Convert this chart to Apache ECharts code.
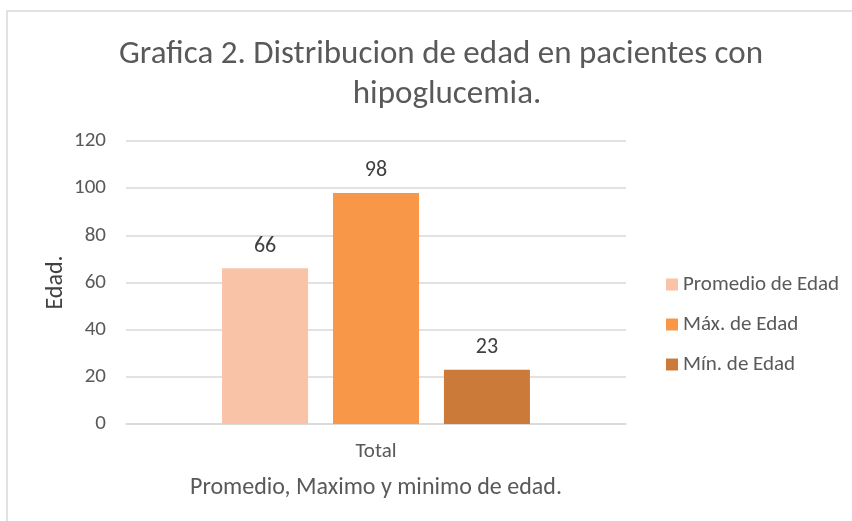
<!DOCTYPE html>
<html>
<head>
<meta charset="utf-8">
<script src="https://cdn.jsdelivr.net/npm/echarts@6/dist/echarts.min.js"></script>
<style>
  html, body { margin: 0; padding: 0; background: #fff; }
  #chart { width: 852px; height: 521px; }
</style>
</head>
<body>
<div id="chart"></div>
<script>
// datos de la grafica
const categories = ['Total'];
const seriesNames = ['Promedio de Edad', 'Máx. de Edad', 'Mín. de Edad'];
const promedio = [66];
const maximo = [98];
const minimo = [23];
const yTicks = [0, 20, 40, 60, 80, 100, 120];
const titleLines = ['Grafica 2. Distribucion de edad en pacientes con', 'hipoglucemia.'];

const colors = ['#F9C3A7', '#F79747', '#CC7A3A'];
const font = 'Calibri, Carlito, Lato, sans-serif';

const chart = echarts.init(document.getElementById('chart'));

const mkSeries = (name, data, i) => ({
  name: name,
  type: 'bar',
  data: data,
  barWidth: 86,
  barGap: '29%',
  itemStyle: { color: colors[i] },
  label: {
    show: true,
    position: 'top',
    distance: 11,
    color: '#404040',
    fontSize: 22,
    fontFamily: font
  }
});

const titleStyle = {
  color: '#595959',
  fontSize: 33,
  fontWeight: 'normal',
  fontFamily: font
};

chart.setOption({
  animation: false,
  textStyle: { fontFamily: font },
  graphic: [{
    type: 'rect',
    shape: { x: 7, y: 11, width: 900, height: 600 },
    style: { fill: 'none', stroke: '#d9d9d9', lineWidth: 1.5 },
    z: -1
  }],
  title: [
    { text: titleLines[0], left: 436, textAlign: 'center', top: 33, textStyle: titleStyle },
    { text: titleLines[1], left: 442, textAlign: 'center', top: 73, textStyle: titleStyle }
  ],
  legend: {
    orient: 'vertical',
    left: 661,
    top: 269,
    itemWidth: 12,
    itemHeight: 12,
    itemGap: 19,
    icon: 'rect',
    textStyle: { color: '#595959', fontSize: 21, fontFamily: font },
    data: seriesNames
  },
  grid: { left: 126, right: 226, top: 141, bottom: 97 },
  xAxis: {
    type: 'category',
    data: categories,
    axisLine: { lineStyle: { color: '#d9d9d9', width: 1.5 } },
    axisTick: { show: false },
    axisLabel: { color: '#595959', fontSize: 21, margin: 17 },
    name: 'Promedio, Maximo y minimo de edad.',
    nameLocation: 'middle',
    nameGap: 52,
    nameTextStyle: { color: '#595959', fontSize: 24 }
  },
  yAxis: {
    type: 'value',
    min: yTicks[0],
    max: yTicks[yTicks.length - 1],
    interval: 20,
    axisLine: { show: false },
    axisTick: { show: false },
    splitLine: { lineStyle: { color: '#d9d9d9', width: 1.5 } },
    axisLabel: { color: '#595959', fontSize: 21, margin: 20 },
    name: 'Edad.',
    nameLocation: 'middle',
    nameRotate: 90,
    nameGap: 58,
    nameMoveOverlap: false,
    nameTextStyle: { color: '#404040', fontSize: 24 }
  },
  series: [
    mkSeries(seriesNames[0], promedio, 0),
    mkSeries(seriesNames[1], maximo, 1),
    mkSeries(seriesNames[2], minimo, 2)
  ]
});
</script>
</body>
</html>
